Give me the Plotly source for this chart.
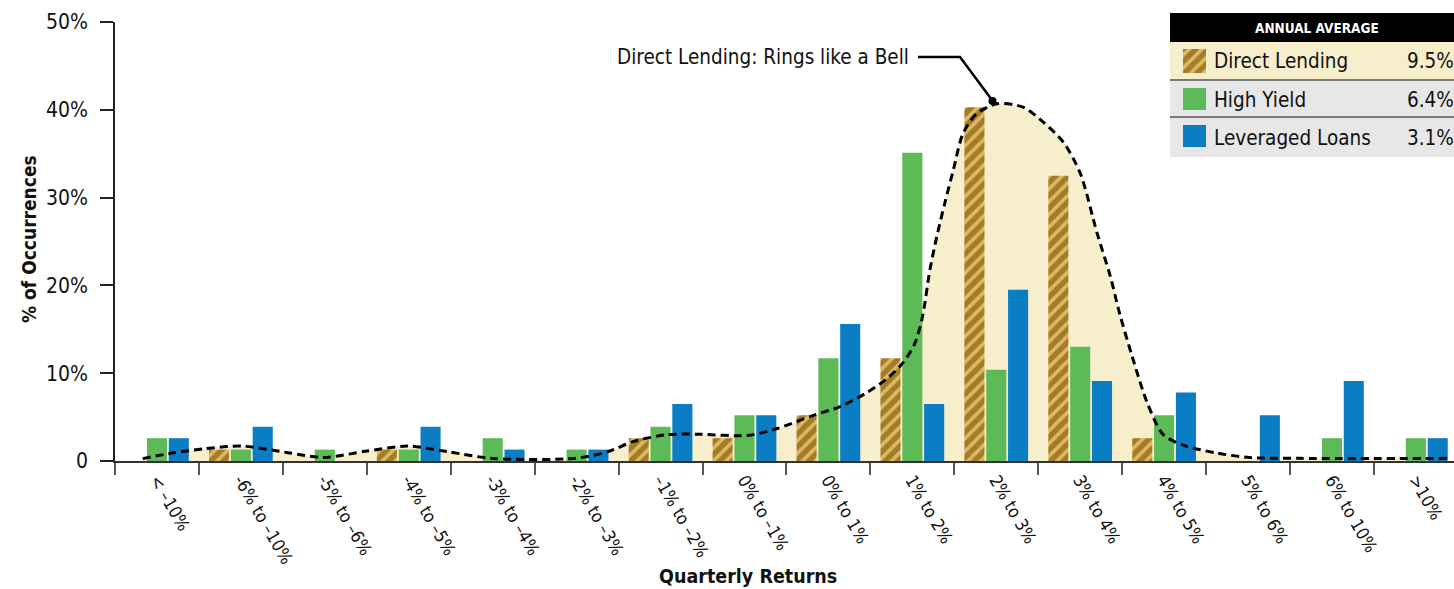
import plotly.graph_objects as go

# ---------------- data ----------------
categories = ["< –10%", "-6% to –10%", "-5% to –6%", "-4% to –5%", "-3% to –4%",
              "-2% to –3%", "–1% to –2%", "0% to –1%", "0% to 1%", "1% to 2%",
              "2% to 3%", "3% to 4%", "4% to 5%", "5% to 6%", "6% to 10%", ">10%"]
direct_lending = [0, 1.3, 0, 1.3, 0, 0, 2.6, 2.6, 5.2, 11.7, 40.3, 32.5, 2.6, 0, 0, 0]
high_yield = [2.6, 1.3, 1.3, 1.3, 2.6, 1.3, 3.9, 5.2, 11.7, 35.1, 10.4, 13.0, 5.2, 0, 2.6, 2.6]
leveraged_loans = [2.6, 3.9, 0, 3.9, 1.3, 1.3, 6.5, 5.2, 15.6, 6.5, 19.5, 9.1, 7.8, 5.2, 9.1, 2.6]

# bell curve (x in category units, y in %)
curve_x = [-0.17, 0.18, 0.57, 1.01, 1.56, 1.98, 2.48, 2.99, 3.47, 3.99, 4.98, 5.37, 5.67,
           6.08, 6.47, 7.03, 7.39, 7.82, 8.14, 8.46, 8.70, 8.89, 9.03, 9.12, 9.21, 9.29,
           9.39, 9.49, 9.60, 9.76, 10.01, 10.32, 10.56, 10.80, 11.00, 11.20,
           11.36, 11.47, 11.62, 11.80, 11.99, 12.23, 12.63, 13.02, 13.62, 15.37]
curve_y = [0.27, 0.9, 1.4, 1.7, 0.95, 0.4, 1.1, 1.7, 1.05, 0.3, 0.3, 1.05, 2.2,
           3.0, 3.05, 2.9, 3.7, 5.2, 6.2, 7.8, 9.4, 11.2, 13.4, 16.4, 21.8, 25.5,
           29.5, 33.2, 37.2, 39.5, 40.7, 40.3, 38.6, 36.3, 32.8, 26.0,
           21.0, 16.8, 11.9, 6.6, 3.0, 1.8, 0.9, 0.4, 0.3, 0.3]

legend_names = ["Direct Lending", "High Yield", "Leveraged Loans"]
legend_values = ["9.5%", "6.4%", "3.1%"]
legend_title = "ANNUAL AVERAGE"
callout_text = "Direct Lending: Rings like a Bell"
y_ticks = [0, 10, 20, 30, 40, 50]
y_ticktext = ["0", "10%", "20%", "30%", "40%", "50%"]

# ---------------- styles ----------------
FONT = "DejaVu Sans Condensed, Liberation Sans Narrow, sans-serif"
GOLD_L = "#DFBA62"
GOLD_D = "#A27C28"
GREEN = "#5CBB56"
BLUE = "#0A7DC4"
CREAM = "#F7EECC"
GRAY = "#E7E7E7"
TXT = "#111111"

W, H = 1454, 589
L, R, T, B = 115, 0, 22, 128
PW, PH = W - L - R, H - T - B
XR = [-0.5, 15.454]


def px(xp):
    return (xp - L) / PW


def py(yp):
    return (H - B - yp) / PH


fig = go.Figure()

# fill under the curve (main subplot, beneath bars)
fig.add_trace(go.Scatter(x=curve_x, y=curve_y, mode="lines", fill="tozeroy",
                         fillcolor=CREAM, line=dict(width=0, shape="spline", smoothing=0.8),
                         xaxis="x", yaxis="y", showlegend=False, hoverinfo="skip"))

pattern = dict(shape="/", fgcolor=GOLD_D, bgcolor=GOLD_L, fillmode="overlay",
               size=9, solidity=0.6, fgopacity=1)

# bars (overlay subplot)
fig.add_trace(go.Bar(x=categories, y=direct_lending, name=legend_names[0],
                     marker=dict(color=GOLD_L, line=dict(width=0), pattern=pattern),
                     xaxis="x2", yaxis="y2", showlegend=False))
fig.add_trace(go.Bar(x=categories, y=high_yield, name=legend_names[1],
                     marker=dict(color=GREEN, line=dict(width=0)),
                     xaxis="x2", yaxis="y2", showlegend=False))
fig.add_trace(go.Bar(x=categories, y=leveraged_loans, name=legend_names[2],
                     marker=dict(color=BLUE, line=dict(width=0)),
                     xaxis="x2", yaxis="y2", showlegend=False))

# dashed curve on top
fig.add_trace(go.Scatter(x=curve_x, y=curve_y, mode="lines",
                         line=dict(color="black", width=3, dash="8px,5px", shape="spline", smoothing=0.8),
                         xaxis="x3", yaxis="y3", showlegend=False, hoverinfo="skip"))

# patterned legend swatch
fig.add_trace(go.Bar(x=[0], y=[1], width=[1],
                     marker=dict(color=GOLD_L, line=dict(width=0), pattern=pattern),
                     xaxis="x4", yaxis="y4", showlegend=False, hoverinfo="skip"))

fig.update_layout(
    width=W, height=H,
    margin=dict(l=L, r=R, t=T, b=B, pad=0),
    paper_bgcolor="white", plot_bgcolor="rgba(0,0,0,0)",
    barmode="group", bargap=0.22, bargroupgap=0.08,
    showlegend=False,
    font=dict(family=FONT, color=TXT),
    xaxis=dict(range=XR, visible=False, domain=[0, 1], fixedrange=True),
    yaxis=dict(range=[0, 50], tickvals=y_ticks, ticktext=y_ticktext, ticks="outside",
               ticklen=13, tickwidth=1.5, tickcolor="#222", showline=True, linecolor="#222",
               linewidth=1.5, showgrid=False, zeroline=False, automargin=False,
               tickfont=dict(size=21, family=FONT, color=TXT), ticklabelstandoff=8,
               domain=[0, 1]),
    xaxis2=dict(type="category", categoryorder="array", categoryarray=categories,
                overlaying="x", anchor="y2", range=XR, tickson="boundaries",
                ticks="outside", ticklen=12, tickwidth=1.5, tickcolor="#555",
                showline=True, linecolor="#333", linewidth=2, showgrid=False,
                zeroline=False, tickangle=60, automargin=False,
                tickfont=dict(size=17.5, family=FONT, color=TXT)),
    yaxis2=dict(range=[0, 50], overlaying="y", visible=False),
    xaxis3=dict(range=XR, overlaying="x", anchor="y3", visible=False),
    yaxis3=dict(range=[0, 50], overlaying="y", visible=False),
    xaxis4=dict(range=[-0.5, 0.5], domain=[px(1183), px(1206)], anchor="y4",
                visible=False, fixedrange=True),
    yaxis4=dict(range=[0, 1], domain=[py(73), py(49)], anchor="x4",
                visible=False, fixedrange=True),
)

shapes = []
# legend table
shapes.append(dict(type="rect", xref="paper", yref="paper", x0=px(1170), x1=px(1460),
                   y0=py(42), y1=py(13), fillcolor="black", line=dict(width=0), layer="below"))
shapes.append(dict(type="rect", xref="paper", yref="paper", x0=px(1170), x1=px(1460),
                   y0=py(80), y1=py(42), fillcolor=CREAM, line=dict(width=0), layer="below"))
shapes.append(dict(type="rect", xref="paper", yref="paper", x0=px(1170), x1=px(1460),
                   y0=py(157), y1=py(80), fillcolor=GRAY, line=dict(width=0), layer="below"))
for yl in (80, 117):
    shapes.append(dict(type="line", xref="paper", yref="paper", x0=px(1170), x1=px(1460),
                       y0=py(yl), y1=py(yl), line=dict(color="#555", width=1.5)))
shapes.append(dict(type="rect", xref="paper", yref="paper", x0=px(1183), x1=px(1206),
                   y0=py(110), y1=py(88), fillcolor=GREEN, line=dict(width=0)))
shapes.append(dict(type="rect", xref="paper", yref="paper", x0=px(1183), x1=px(1206),
                   y0=py(147), y1=py(125), fillcolor=BLUE, line=dict(width=0)))
# callout line
shapes.append(dict(type="path", xref="paper", yref="paper",
                   path=f"M {px(918)},{py(57)} L {px(960)},{py(57)} L {px(992)},{py(100)}",
                   line=dict(color="black", width=2.5)))
shapes.append(dict(type="circle", xref="paper", yref="paper",
                   x0=px(988.5), x1=px(996.5), y0=py(105), y1=py(97),
                   fillcolor="black", line=dict(width=0)))

annotations = [
    dict(text=callout_text, xref="paper", yref="paper", x=px(911), y=py(57),
         xanchor="right", yanchor="middle", showarrow=False,
         font=dict(size=20.5, family=FONT, color=TXT)),
    dict(text=legend_title, xref="paper", yref="paper", x=px(1317), y=py(27.5),
         xanchor="center", yanchor="middle", showarrow=False,
         font=dict(size=13.5, family=FONT, color="white", weight="bold")),
    dict(text="% of Occurrences", xref="paper", yref="paper", x=px(29), y=py(239),
         xanchor="center", yanchor="middle", textangle=-90, showarrow=False,
         font=dict(size=19, family=FONT, color=TXT, weight="bold")),
    dict(text="Quarterly Returns", xref="paper", yref="paper", x=px(748), y=py(576),
         xanchor="center", yanchor="middle", showarrow=False,
         font=dict(size=19.5, family=FONT, color=TXT, weight="bold")),
]
row_y = [61.5, 99.5, 137.5]
for name, val, yy in zip(legend_names, legend_values, row_y):
    annotations.append(dict(text=name, xref="paper", yref="paper", x=px(1212), y=py(yy),
                            xanchor="left", yanchor="middle", showarrow=False,
                            font=dict(size=20.5, family=FONT, color=TXT)))
    annotations.append(dict(text=val, xref="paper", yref="paper", x=px(1456), y=py(yy),
                            xanchor="right", yanchor="middle", showarrow=False,
                            font=dict(size=20.5, family=FONT, color=TXT)))

fig.update_layout(shapes=shapes, annotations=annotations)
fig.write_html("out.html")
